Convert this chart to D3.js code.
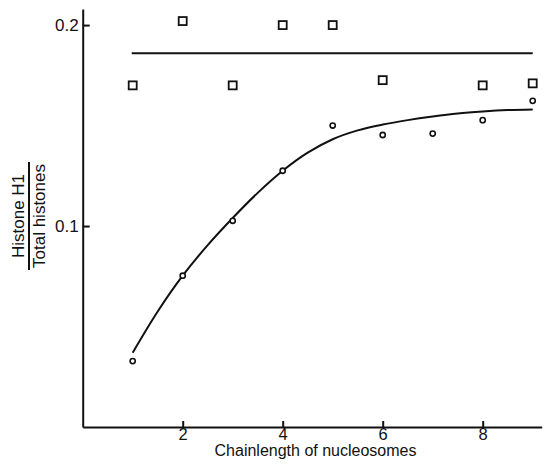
<!DOCTYPE html>
<html>
<head>
<meta charset="utf-8">
<title>Histone H1 vs chainlength</title>
<style>
  body { margin: 0; background: #fff; }
  svg { display: block; }
  text { font-family: "Liberation Sans", Arial, sans-serif; fill: #111; }
</style>
</head>
<body>
<div id="chart"></div>
<script src="https://d3js.org/d3.v7.min.js"></script>
<script>
// values
var squareX = [1, 2, 3, 4, 5, 6, 8, 9];
var squareY = [0.170, 0.202, 0.170, 0.200, 0.200, 0.1726, 0.170, 0.171];

var circleX = [1, 2, 3, 4, 5, 6, 7, 8, 9];
var circleY = [0.0328, 0.0753, 0.1026, 0.1275, 0.150, 0.1453, 0.146, 0.1527, 0.1623];

// hand-drawn fit through the circles
var curveX = [1, 1.5, 2, 2.5, 3, 3.5, 4, 4.5, 5, 5.5, 6, 6.5, 7, 7.5, 8, 8.5, 9];
var curveY = [0.037, 0.0575, 0.0753, 0.0905, 0.1040, 0.1165, 0.1275, 0.1365, 0.1432,
              0.1476, 0.1505, 0.1527, 0.1545, 0.156, 0.157, 0.1577, 0.158];

// flat line through the squares
var levelX = [0.98, 9.0];
var levelY = [0.186, 0.186];

var xTicks = [2, 4, 6, 8];
var yTicks = [0.1, 0.2];

var width = 546, height = 467;

var svg = d3.select("#chart").append("svg")
    .attr("width", width)
    .attr("height", height);

var x = d3.scaleLinear().domain([0, 9.18]).range([82.7, 541.7]);
var y = d3.scaleLinear().domain([0, 0.208]).range([427, 9]);

// axes, ticks point inward
var xAxis = d3.axisBottom(x).tickValues(xTicks).tickSizeInner(-6).tickSizeOuter(0).tickPadding(1)
    .tickFormat(d3.format("d"));
var yAxis = d3.axisLeft(y).tickValues(yTicks).tickSizeInner(-7).tickSizeOuter(0).tickPadding(4)
    .tickFormat(d3.format(".1f"));

var gx = svg.append("g").attr("transform", "translate(0," + y(0) + ")").call(xAxis);
var gy = svg.append("g").attr("transform", "translate(" + x(0) + ",0)").call(yAxis);

[gx, gy].forEach(function(g){
  g.select(".domain").attr("stroke", "#111").attr("stroke-width", 2);
  g.selectAll(".tick line").attr("stroke", "#111").attr("stroke-width", 2);
  g.selectAll(".tick text").attr("font-size", 17).attr("font-family", "Liberation Sans, Arial, sans-serif").attr("fill", "#111");
});
gx.selectAll(".tick text").attr("font-size", 16.5);

// x title
svg.append("text")
    .attr("x", 315.5)
    .attr("y", 456)
    .attr("text-anchor", "middle")
    .attr("font-size", 16)
    .text("Chainlength of nucleosomes");

// y title as a fraction
var yl = svg.append("g").attr("transform", "translate(29,216) rotate(-90)");
yl.append("text").attr("x", 0).attr("y", -5).attr("text-anchor", "middle")
    .attr("font-size", 17).text("Histone H1");
yl.append("line").attr("x1", -54).attr("x2", 54).attr("y1", 0).attr("y2", 0)
    .attr("stroke", "#111").attr("stroke-width", 2);
yl.append("text").attr("x", 0).attr("y", 16).attr("text-anchor", "middle")
    .attr("font-size", 17).text("Total histones");

// level line
var line = d3.line().x(function(d){ return x(d[0]); }).y(function(d){ return y(d[1]); });
svg.append("path")
    .datum(d3.zip(levelX, levelY))
    .attr("d", line)
    .attr("fill", "none").attr("stroke", "#111").attr("stroke-width", 2);

// fitted curve
svg.append("path")
    .datum(d3.zip(curveX, curveY))
    .attr("d", line.curve(d3.curveCatmullRom))
    .attr("fill", "none").attr("stroke", "#111").attr("stroke-width", 2);

// squares
svg.selectAll(".sq")
    .data(d3.zip(squareX, squareY))
    .enter().append("rect")
    .attr("class", "sq")
    .attr("x", function(d){ return x(d[0]) - 4; })
    .attr("y", function(d){ return y(d[1]) - 4; })
    .attr("width", 8).attr("height", 8)
    .attr("fill", "#fff").attr("stroke", "#111").attr("stroke-width", 1.8);

// circles
svg.selectAll(".ci")
    .data(d3.zip(circleX, circleY))
    .enter().append("circle")
    .attr("class", "ci")
    .attr("cx", function(d){ return x(d[0]); })
    .attr("cy", function(d){ return y(d[1]); })
    .attr("r", 2.6)
    .attr("fill", "#fff").attr("stroke", "#111").attr("stroke-width", 1.6);
</script>
</body>
</html>
